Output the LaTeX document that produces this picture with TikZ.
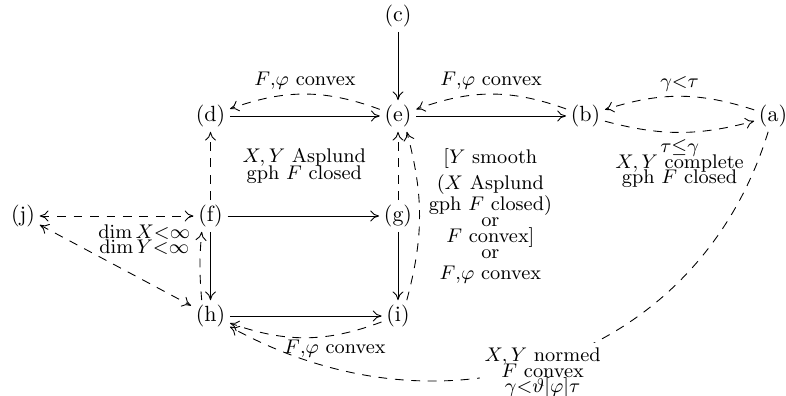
\documentclass[tikz,border=0pt]{standalone}
\usepackage{amsmath, amssymb}
\usepackage{tikz}
\usetikzlibrary{arrows.meta, positioning, calc}

\begin{document}
\begin{tikzpicture}[
    node distance=1.6cm and 3cm, on grid,
    >={To[length=4pt, width=5pt]},
    stmt/.style={inner sep=2pt},
    arr/.style={->},
    dasharr/.style={->, dash pattern=on 4pt off 3.5pt},
    ddasharr/.style={<->, dash pattern=on 4pt off 3.5pt},
    lbl/.style={font={\fontsize{9}{7.2}\selectfont\lineskiplimit=-20pt}, align=center, inner sep=2pt}
  ]
  \useasboundingbox (-6.368,-4.48) rectangle (6.208,1.856);
  % Nodes
  \node[stmt] (e) {(e)};
  \node[stmt, above=of e] (c) {(c)};
  \node[stmt, left=of e] (d) {(d)};
  \node[stmt, right=of e] (b) {(b)};
  \node[stmt, right=of b] (a) {(a)};
  \node[stmt, below=of e] (g) {(g)};
  \node[stmt, below=of g] (i) {(i)};
  \node[stmt, below=of d] (f) {(f)};
  \node[stmt, below=of f] (h) {(h)};
  \node[stmt, left=of f] (j) {(j)};

  % square label
  \node[lbl, font={\fontsize{9}{7.7}\selectfont\lineskiplimit=-20pt}] (asp) at ($(d)!0.5!(g)$)
        {$X,Y$ Asplund\\gph $F$ closed};

  % Solid arrows
  \draw[arr] (c) -- (e);
  \draw[arr] (d) -- (e);
  \draw[arr] (e) -- (b);
  \draw[arr] (f) -- (g);
  \draw[arr] (f) -- (h);
  \draw[arr] (g) -- (i);
  \draw[arr] (h) -- (i);

  % Dashed arrows
  \draw[dasharr] (e) to[bend right=20] node[lbl, above] {$F{,}\varphi$ convex} (d);
  \draw[dasharr] (b) to[bend right=20] node[lbl, above] {$F{,}\varphi$ convex} (e);
  \draw[dasharr] (a) to[bend right=18] node[lbl, above] {$\gamma{<}\tau$} (b);
  \draw[dasharr] (b) to[bend right=15]
        node[lbl, below, yshift=-1pt] {$\tau{\leq}\gamma$\\$X,Y$ complete\\gph $F$ closed} (a);
  \draw[dasharr] (f) -- (d);
  \draw[dasharr] (g) -- (e);
  \draw[dasharr] ([xshift=4pt]i.north) to[bend right=15]
        node[lbl, right, xshift=2pt] {[$Y$ smooth\\[5pt]($X$ Asplund\\[2.2pt]gph $F$ closed)\\or\\$F$ convex]\\or\\[2.7pt]$F{,}\varphi$ convex}
        ([xshift=4pt]e.south);
  \draw[dasharr] ([xshift=-4pt]h.north) to[bend left=5] ([xshift=-4pt]f.south);
  \draw[ddasharr] (j) -- node[lbl, pos=0.68, below, yshift=-2pt, font={\fontsize{9}{6.6}\selectfont\lineskiplimit=-20pt}]
        {$\dim X{<}\infty$\\$\dim Y{<}\infty$} (f);
  \draw[ddasharr] (j) -- (h);
  \draw[dasharr] (i) to[bend left=20] node[lbl, pos=0.3, below] {$F{,}\varphi$ convex} (h);
  \draw[dasharr] (a) .. controls (4.8,-3.9) and (0.8,-5.3) ..
        node[lbl, pos=0.52, yshift=-4pt, fill=white] {$X,Y$ normed\\$F$ convex\\$\gamma{<}\vartheta[\varphi]\tau$} (h);
\end{tikzpicture}
\end{document}
